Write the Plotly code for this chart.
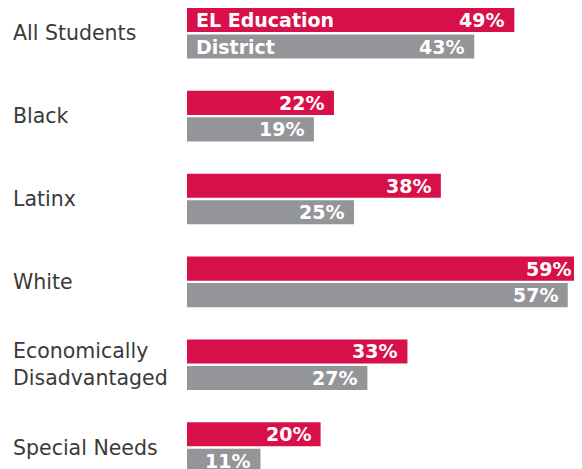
import plotly.graph_objects as go

categories = ["All Students", "Black", "Latinx", "White", "Economically<br>Disadvantaged", "Special Needs"]
el_education = [49, 22, 38, 59, 33, 20]
district = [43, 19, 25, 57, 27, 11]
series_names = ["EL Education", "District"]

RED = "#D7104A"
GRAY = "#949599"
TEXT = "#3a3a3a"
FONT = "DejaVu Sans"

fig = go.Figure()
fig.add_trace(go.Bar(y=categories, x=el_education, orientation="h", marker=dict(color=RED, line=dict(width=0)),
                     name=series_names[0], hoverinfo="skip"))
fig.add_trace(go.Bar(y=categories, x=district, orientation="h", marker=dict(color=GRAY, line=dict(width=0)),
                     name=series_names[1], hoverinfo="skip"))

SH = 13.25
ann = []
for cat, a, b in zip(categories, el_education, district):
    for val, shift in ((a, SH), (b, -SH)):
        ann.append(dict(x=val, y=cat, xref="x", yref="y", text=f"<b>{val}%</b>", showarrow=False,
                        xanchor="right", yanchor="middle", xshift=-8, yshift=shift,
                        font=dict(family=FONT, size=19, color="white")))
    ann.append(dict(x=-0.4456, y=cat, xref="paper", yref="y", text=cat, showarrow=False,
                    xanchor="left", yanchor="middle", align="left",
                    font=dict(family=FONT, size=20.5, color=TEXT)))
for name, shift in zip(series_names, (SH, -SH)):
    ann.append(dict(x=0, y=categories[0], xref="x", yref="y", text=f"<b>{name}</b>", showarrow=False,
                    xanchor="left", yanchor="middle", xshift=7, yshift=shift,
                    font=dict(family=FONT, size=19, color="white")))

fig.update_layout(
    width=574, height=461,
    margin=dict(l=179, r=0, t=0, b=0),
    paper_bgcolor="white", plot_bgcolor="white",
    barmode="group", bargap=0.36, bargroupgap=0.09,
    showlegend=False,
    annotations=ann,
    xaxis=dict(range=[0, 59.13], visible=False, fixedrange=True),
    yaxis=dict(range=[5.259, -0.3054], showticklabels=False, showgrid=False, zeroline=False,
               showline=False, ticks="", fixedrange=True),
)

fig.write_html("out.html", config={"displayModeBar": False})
